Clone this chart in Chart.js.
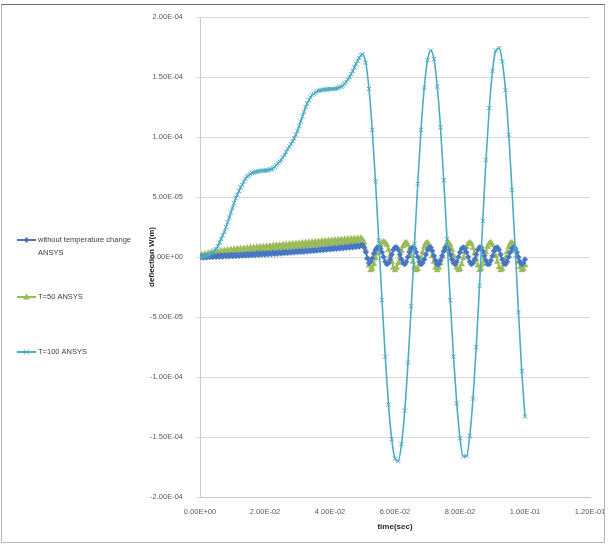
<!DOCTYPE html>
<html>
<head>
<meta charset="utf-8">
<title>deflection vs time</title>
<script src="https://cdn.jsdelivr.net/npm/chart.js@4.4.1/dist/chart.umd.min.js"></script>
<style>
  body { margin: 0; background: #fff; }
  #wrap { width: 609px; height: 545px; }
</style>
</head>
<body>
<div id="wrap"><canvas id="deflectionChart" width="609" height="545"></canvas></div>
<script>
// ANSYS transient results, deflection in micrometres (1e-6 m)
const seriesNames = ['without temperature change ANSYS', 'T=50 ANSYS', 'T=100 ANSYS'];
const xTickValues = [0, 0.02, 0.04, 0.06, 0.08, 0.1, 0.12];
const yTickValues = [-2e-4, -1.5e-4, -1e-4, -5e-5, 0, 5e-5, 1e-4, 1.5e-4, 2e-4];

// sub-step sizes used by the solver (s)
const fineStep = 0.0005;
const coarseStep = 0.001;

// without temperature change, t = 0 .. 0.1 s every 0.5 ms
const noTempLoad = [
  0, 0.6, -0.5, 0.8, -0.4, 0.9, -0.2, 1.0, -0.1, 1.1,
  0.0, 1.3, 0.1, 1.4, 0.2, 1.5, 0.4, 1.6, 0.5, 1.8,
  0.6, 1.9, 0.7, 2.0, 0.9, 2.1, 1.0, 2.3, 1.1, 2.4,
  1.3, 2.6, 1.4, 2.7, 1.6, 2.9, 1.7, 3.0, 1.9, 3.2,
  2.0, 3.3, 2.2, 3.5, 2.4, 3.7, 2.5, 3.8, 2.7, 4.0,
  2.9, 4.2, 3.1, 4.4, 3.3, 4.6, 3.5, 4.8, 3.7, 5.0,
  3.9, 5.2, 4.1, 5.4, 4.3, 5.6, 4.5, 5.8, 4.8, 6.1,
  5.0, 6.3, 5.2, 6.5, 5.5, 6.8, 5.7, 7.0, 6.0, 7.3,
  6.2, 7.5, 6.5, 7.8, 6.7, 8.0, 7.0, 8.3, 7.2, 8.5,
  7.5, 8.8, 7.8, 9.1, 8.0, 9.3, 8.3, 9.6, 8.6, 9.9,
  10.0
];
const noTempFree = [
  8, 4, -1, -5, -4, -1, 3, 6, 8, 8.5,
  7, 4, 0, -4, -6, -5, -2, 2, 6, 8,
  8, 6, 2, -2, -5, -6, -4, 0, 4, 7,
  8, 7, 4, 0, -4, -6, -5, -2, 2, 6,
  8, 8, 5, 1, -3, -6, -6, -3, 1, 5,
  7.5, 8, 6, 2, -2, -5, -6, -4, 0, 4,
  7, 8, 7, 4, 0, -4, -6, -5, -2, 2,
  6, 8, 8, 5, 1, -3, -6, -6, -3, 1,
  5, 7.5, 8, 6, 2, -2, -5, -6, -4, 0,
  4, 7, 8, 7, 4, 0, -4, -6, -5, -2
];

// T = 50, same time grid
const t50Load = [
  0, 1.9, -0.7, 2.6, -0.1, 3.2, 0.5, 3.8, 1.1, 4.3,
  1.5, 4.7, 1.9, 5.1, 2.3, 5.5, 2.7, 5.9, 3.1, 6.3,
  3.5, 6.6, 3.7, 6.9, 4.0, 7.1, 4.2, 7.3, 4.5, 7.6,
  4.7, 7.9, 5.0, 8.1, 5.3, 8.4, 5.5, 8.6, 5.7, 8.9,
  6.0, 9.1, 6.3, 9.4, 6.5, 9.6, 6.8, 9.9, 7.0, 10.1,
  7.3, 10.4, 7.5, 10.6, 7.8, 10.9, 8.0, 11.1, 8.3, 11.4,
  8.5, 11.6, 8.8, 11.9, 9.0, 12.1, 9.3, 12.4, 9.5, 12.6,
  9.8, 12.9, 10.0, 13.1, 10.3, 13.4, 10.5, 13.6, 10.8, 13.9,
  11.0, 14.1, 11.2, 14.3, 11.4, 14.5, 11.6, 14.7, 11.8, 14.9,
  12.0, 15.1, 12.2, 15.3, 12.4, 15.5, 12.6, 15.7, 12.8, 15.9,
  14.5
];
const t50Free = [
  12, 6, -1, -7, -11, -10, -6, -1, 3, 7,
  10, 12, 12.5, 12, 10, 6, 1, -4, -9, -11,
  -9, -5, 0, 5, 9, 11.5, 12, 10, 6, 1,
  -4, -8.5, -11, -10, -6, -1, 4, 8.5, 11.5, 12,
  10, 6, 1, -4, -9, -11, -9, -5, 0, 5,
  9, 11.5, 12, 10, 6, 1, -4, -9, -11, -10,
  -6, -1, 4, 8.5, 11, 12, 11, 7.5, 3, -2,
  -7, -11, -10, -6, -1, 4, 8.5, 11.5, 12, 10,
  6, 1, -4, -8.5, -11, -10, -6, -1, 4, 8.5,
  11.5, 12, 10, 6, 1, -4, -8.5, -11, -10, -7
];

// T = 100, 0.5 ms steps up to 0.05 s, then 1 ms steps
const t100Load = [
  0, 0, 0.5, 1, 1, 1.5, 2, 3, 4, 5.5,
  7, 9, 12, 15, 18, 21, 25, 29, 33, 37,
  41, 45, 49, 52, 55, 58, 60, 63, 65, 67,
  68, 69, 70, 70.5, 71, 71, 71.5, 71.5, 72, 72,
  72, 72, 72.5, 73, 73, 74, 75, 76.5, 78, 79.5,
  81, 83, 85, 87.5, 90, 92, 94, 96.5, 99, 102,
  105, 109, 113, 117, 121, 125, 128, 131, 133, 135,
  136, 137, 138, 138.5, 139, 139, 139.5, 139.5, 139.5, 140,
  140, 140, 140, 140, 140.5, 141, 141.5, 142, 143, 144.5,
  146, 148, 150, 152.5, 155, 158, 161, 163.5, 166, 168,
  169
];
const t100Free = [
  162, 140, 106, 63, 14, -36, -83, -123, -152, -168,
  -170, -156, -128, -88, -41, 11, 61, 106, 141, 164,
  172, 165, 142, 108, 64, 15, -36, -83, -122, -151,
  -166, -166, -149, -118, -75, -24, 30, 81, 124, 155,
  172, 174, 163, 139, 102, 56, 6, -46, -95, -133
];

function timeGrid(start, step, count) {
  return Array.from({ length: count }, (_, i) => +(start + i * step).toFixed(4));
}

function toPoints(times, values) {
  return values.map((v, i) => ({ x: times[i], y: v * 1e-6 }));
}

const fineTimes = timeGrid(0, fineStep, 201);
const t100Times = timeGrid(0, fineStep, 101).concat(timeGrid(0.051, coarseStep, 50));

// Excel style scientific labels, e.g. 2.00E-04
function sci(v) {
  if (Math.abs(v) < 1e-12) return '0.00E+00';
  const parts = v.toExponential(2).split('e');
  const e = parseInt(parts[1], 10);
  return parts[0] + 'E' + (e < 0 ? '-' : '+') + String(Math.abs(e)).padStart(2, '0');
}

const colors = {
  noTemp: '#4776c4',
  t50: '#9bbb59',
  t100: '#4bacc6'
};

const labelFont = "'Liberation Sans Narrow', 'Liberation Sans', Arial, sans-serif";

// white page with a thin frame
const framePlugin = {
  id: 'frame',
  beforeDraw(chart) {
    const ctx = chart.ctx;
    ctx.save();
    ctx.fillStyle = '#ffffff';
    ctx.fillRect(0, 0, chart.width, chart.height);
    ctx.restore();
  },
  afterDraw(chart) {
    const ctx = chart.ctx;
    ctx.save();
    ctx.strokeStyle = '#b4b4b4';
    ctx.lineWidth = 1;
    ctx.strokeRect(1.5, 4.5, 603, 538);
    ctx.strokeStyle = '#6e6e6e';
    ctx.beginPath();
    ctx.moveTo(1, 4.5);
    ctx.lineTo(605, 4.5);
    ctx.stroke();
    ctx.restore();
  }
};

function drawMarker(ctx, style, x, y, color) {
  ctx.fillStyle = color;
  ctx.strokeStyle = color;
  ctx.beginPath();
  if (style === 'rectRot') {
    ctx.moveTo(x, y - 3);
    ctx.lineTo(x + 3, y);
    ctx.lineTo(x, y + 3);
    ctx.lineTo(x - 3, y);
    ctx.closePath();
    ctx.fill();
  } else if (style === 'triangle') {
    ctx.moveTo(x, y - 3.5);
    ctx.lineTo(x + 3.5, y + 2.5);
    ctx.lineTo(x - 3.5, y + 2.5);
    ctx.closePath();
    ctx.fill();
  } else {
    ctx.lineWidth = 1;
    ctx.moveTo(x - 2.5, y - 2.5);
    ctx.lineTo(x + 2.5, y + 2.5);
    ctx.moveTo(x + 2.5, y - 2.5);
    ctx.lineTo(x - 2.5, y + 2.5);
    ctx.stroke();
  }
}

// legend sits in the empty band left of the plot
const sideLegend = {
  id: 'sideLegend',
  afterDraw(chart) {
    const ctx = chart.ctx;
    const rows = [
      { y: 240, lines: ['without temperature change', 'ANSYS'] },
      { y: 297, lines: ['T=50 ANSYS'] },
      { y: 352, lines: ['T=100 ANSYS'] }
    ];
    ctx.save();
    chart.data.datasets.forEach((ds, i) => {
      const row = rows[i];
      ctx.strokeStyle = ds.borderColor;
      ctx.lineWidth = 2;
      ctx.beginPath();
      ctx.moveTo(17, row.y);
      ctx.lineTo(36, row.y);
      ctx.stroke();
      drawMarker(ctx, ds.pointStyle, 26.5, row.y, ds.borderColor);
      ctx.fillStyle = '#404040';
      ctx.font = '7.5px ' + labelFont;
      ctx.textBaseline = 'middle';
      ctx.textAlign = 'left';
      row.lines.forEach((line, j) => ctx.fillText(line, 38, row.y + j * 12.5));
    });
    ctx.restore();
  }
};

const ctx = document.getElementById('deflectionChart').getContext('2d');
const deflectionChart = new Chart(ctx, {
  type: 'scatter',
  data: {
    datasets: [
      {
        label: seriesNames[0],
        data: toPoints(fineTimes, noTempLoad.concat(noTempFree)),
        borderColor: colors.noTemp,
        backgroundColor: colors.noTemp,
        showLine: true,
        borderWidth: 1.5,
        pointStyle: 'rectRot',
        pointRadius: 2.8,
        pointBorderWidth: 0.5,
        tension: 0,
        order: 1
      },
      {
        label: seriesNames[1],
        data: toPoints(fineTimes, t50Load.concat(t50Free)),
        borderColor: colors.t50,
        backgroundColor: colors.t50,
        showLine: true,
        borderWidth: 1.5,
        pointStyle: 'triangle',
        pointRadius: 3.4,
        pointBorderWidth: 0.5,
        tension: 0,
        order: 2
      },
      {
        label: seriesNames[2],
        data: toPoints(t100Times, t100Load.concat(t100Free)),
        borderColor: colors.t100,
        backgroundColor: colors.t100,
        showLine: true,
        borderWidth: 1.6,
        pointStyle: 'crossRot',
        pointRadius: 3,
        pointBorderWidth: 1,
        cubicInterpolationMode: 'monotone',
        order: 0
      }
    ]
  },
  options: {
    responsive: false,
    animation: false,
    devicePixelRatio: 1,
    layout: {
      padding: { left: 143, right: 19, top: 17, bottom: 3 }
    },
    plugins: {
      legend: { display: false },
      tooltip: { enabled: false }
    },
    scales: {
      x: {
        type: 'linear',
        min: 0,
        max: 0.12,
        afterBuildTicks: (scale) => { scale.ticks = xTickValues.map(v => ({ value: v })); },
        afterFit: (scale) => {
          // edge labels may hang into the layout padding
          scale.height = 45;
          scale.paddingLeft = 0;
          scale.paddingRight = 0;
        },
        ticks: {
          callback: sci,
          color: '#595959',
          font: { family: labelFont, size: 7.5 },
          padding: 10,
          maxRotation: 0,
          autoSkip: false
        },
        grid: { display: false, drawTicks: false },
        border: { display: true, color: '#c8c8c8', width: 1 },
        title: {
          display: true,
          text: 'time(sec)',
          color: '#262626',
          font: { family: labelFont, size: 8, weight: 'bold' },
          padding: { top: 2, bottom: 10 }
        }
      },
      y: {
        type: 'linear',
        min: -2e-4,
        max: 2e-4,
        afterBuildTicks: (scale) => { scale.ticks = yTickValues.map(v => ({ value: v })); },
        afterFit: (scale) => {
          scale.width = 57;
          scale.paddingTop = 0;
          scale.paddingBottom = 0;
        },
        ticks: {
          callback: sci,
          color: '#595959',
          font: { family: labelFont, size: 7.5 },
          padding: 13
        },
        grid: { color: '#d9d9d9', tickLength: 4, lineWidth: 1 },
        border: { display: true, color: '#c8c8c8', width: 1 },
        title: {
          display: true,
          text: 'deflection W(m)',
          color: '#262626',
          font: { family: labelFont, size: 8, weight: 'bold' },
          padding: { top: 4, bottom: 4 }
        }
      }
    }
  },
  plugins: [framePlugin, sideLegend]
});
</script>
</body>
</html>
